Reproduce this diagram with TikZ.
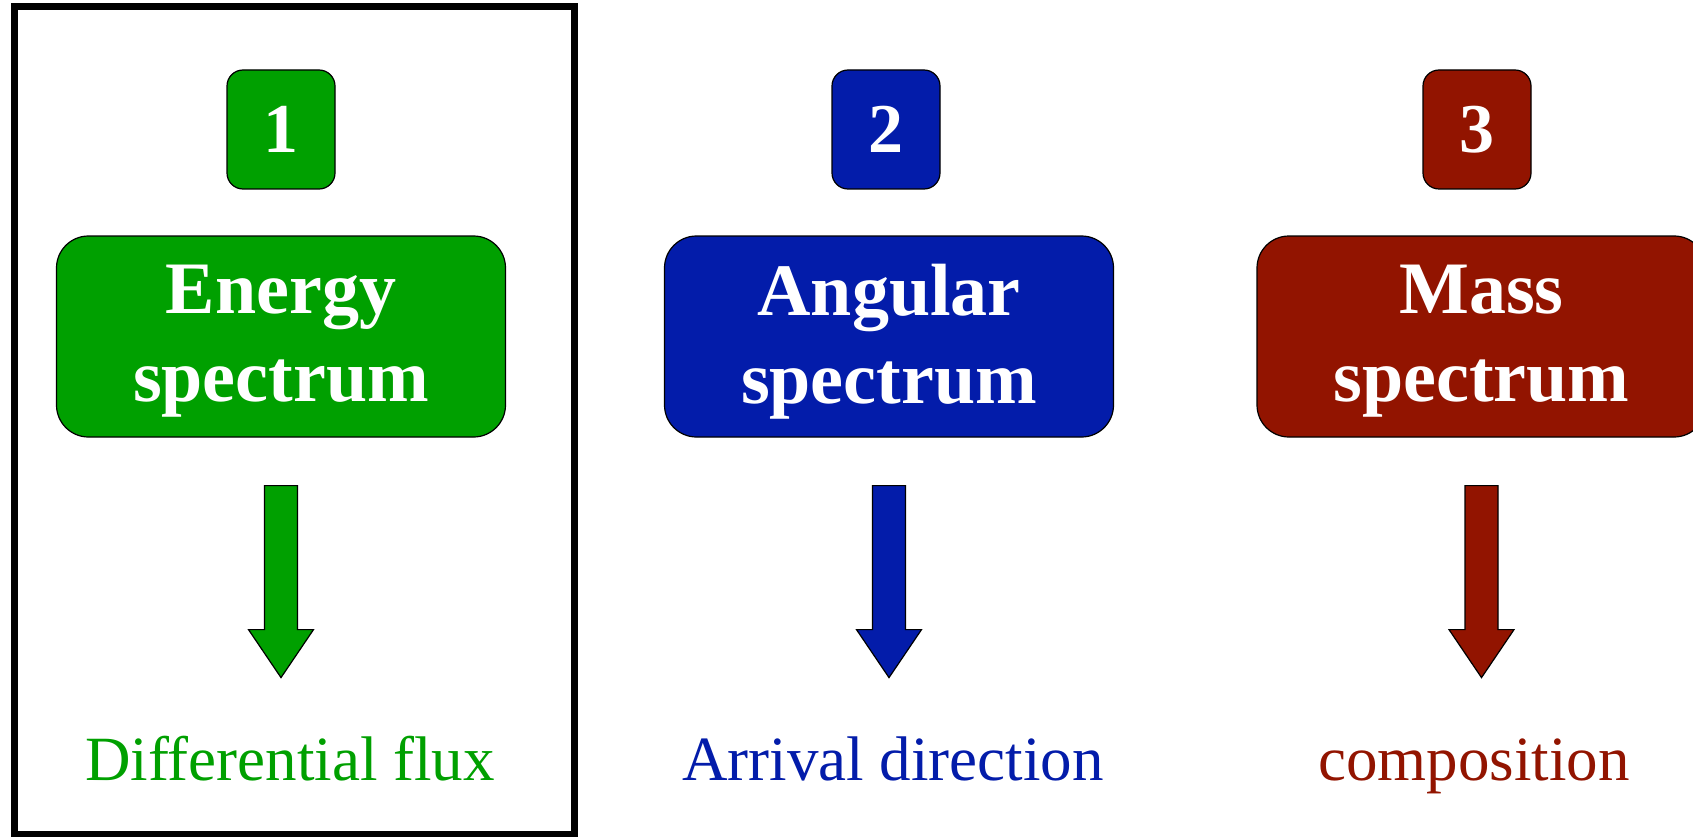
\documentclass[tikz,border=0pt]{standalone}
\usepackage{fontspec}
\setmainfont{Liberation Serif}
\usetikzlibrary{calc}
\definecolor{cgreen}{RGB}{0,160,0}
\definecolor{cblue}{RGB}{3,28,170}
\definecolor{cred}{RGB}{146,20,0}
\begin{document}
\begin{tikzpicture}[x=1pt,y=-1pt,
  badge/.style={draw=black,line width=1.2pt,rounded corners=16pt,minimum width=108pt,minimum height=119pt,text=white,font=\bfseries\fontsize{70}{80}\selectfont,inner sep=0pt},
  bigbox/.style={draw=black,line width=1.2pt,rounded corners=32pt,minimum width=449pt,minimum height=201pt,inner sep=0pt},
  boxtext/.style={text=white,align=center,font=\bfseries\fontsize{74}{88}\selectfont,inner sep=0pt},
  result/.style={font=\fontsize{63}{76}\selectfont,anchor=base,inner sep=0pt},
  fatarrow/.style={draw=black,line width=1.2pt,line join=miter}]
\useasboundingbox (0,0) rectangle (1693,837);
\clip (0,0) rectangle (1693,837);
\fill[white] (0,0) rectangle (1693,837);
\draw[line width=7pt] (14.5,7) rectangle (574.5,834);

\node[badge,fill=cgreen] (n1) at (281,129.5) {1};
\node[badge,fill=cblue]  (n2) at (886,129.5) {2};
\node[badge,fill=cred]   (n3) at (1477,129.5) {3};

\node[bigbox,fill=cgreen] (b1) at (281,336.5) {};
\node[bigbox,fill=cblue]  (b2) at (889,336.5) {};
\node[bigbox,fill=cred]   (b3) at (1481.5,336.5) {};
\node[boxtext] (t1) at ($(b1.center)+(0,5)$) {Energy\\spectrum};
\node[boxtext] (t2) at ($(b2.center)+(0,5)$) {Angular\\spectrum};
\node[boxtext] (t3) at ($(b3.center)+(0,5)$) {Mass\\spectrum};

\foreach \b/\c in {b1/cgreen,b2/cblue,b3/cred}{
  \filldraw[fatarrow,fill=\c]
    ($(\b.south)+(-16.5,48)$) -- ($(\b.south)+(16.5,48)$) -- ($(\b.south)+(16.5,192)$)
    -- ($(\b.south)+(32.5,192)$) -- ($(\b.south)+(0,240)$) -- ($(\b.south)+(-32.5,192)$)
    -- ($(\b.south)+(-16.5,192)$) -- cycle;
}

\node[result,text=cgreen] (r1) at (290,780) {Differential flux};
\node[result,text=cblue]  (r2) at (893,780) {Arrival direction};
\node[result,text=cred]   (r3) at (1474,780) {composition};
\end{tikzpicture}
\end{document}
